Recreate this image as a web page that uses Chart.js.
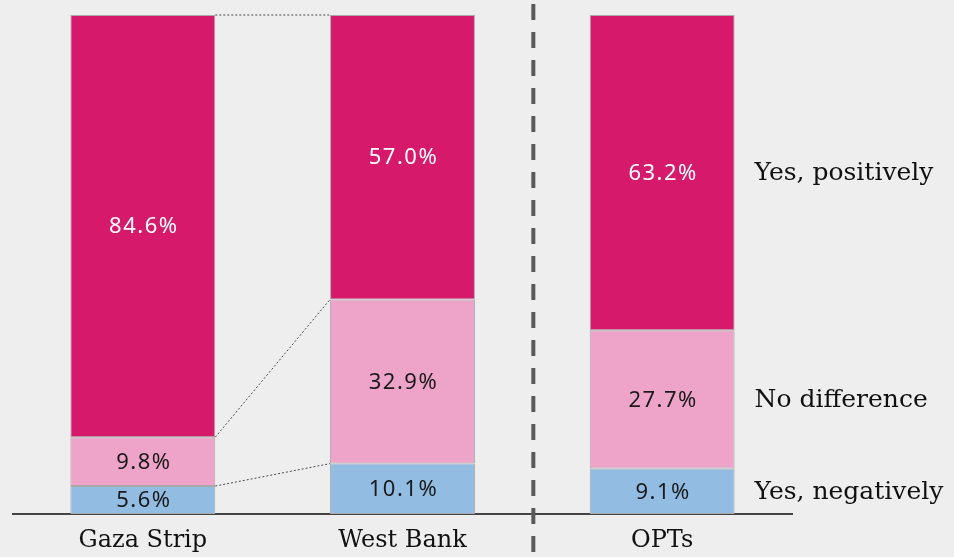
<!DOCTYPE html>
<html>
<head>
<meta charset="utf-8">
<script src="https://cdn.jsdelivr.net/npm/chart.js@4.4.0/dist/chart.umd.min.js"></script>
<style>
  html, body { margin: 0; padding: 0; background: #eeeeee; }
  #wrap { width: 954px; height: 557px; position: relative; }
</style>
</head>
<body>
<div id="wrap"><canvas id="myChart"></canvas></div>
<script>
// chart data
const categories = ['Gaza Strip', 'West Bank', 'OPTs'];
const seriesNames = ['Yes, negatively', 'No difference', 'Yes, positively'];
const negatively = [5.6, 10.1, 9.1];
const noDifference = [9.8, 32.9, 27.7];
const positively = [84.6, 57.0, 63.2];

const colours = ['#92bce2', '#eea3c8', '#d6196b'];
const textColours = ['#1a1a1a', '#1a1a1a', '#ffffff'];

const serifFont = "'DejaVu Serif', serif";
const sansFont = "'Noto Sans', sans-serif";

// draws value labels, connector lines, separator and the right hand labels
const extrasPlugin = {
    id: 'extras',
    afterDatasetsDraw(chart) {
        const ctx = chart.ctx;
        const x = chart.scales.x;
        const y = chart.scales.y;

        // dotted connectors from Gaza Strip to West Bank
        const gaza = chart.getDatasetMeta(0).data[0];
        const half = gaza.width / 2;
        const x0 = x.getPixelForValue(0) + half;
        const x1 = x.getPixelForValue(1) - half;
        const g1 = negatively[0], g2 = g1 + noDifference[0];
        const w1 = negatively[1], w2 = w1 + noDifference[1];
        const pairs = [[100, 100], [g2, w2], [g1, w1]];
        ctx.save();
        ctx.strokeStyle = '#4a4a4a';
        ctx.lineWidth = 1;
        ctx.setLineDash([2, 2]);
        pairs.forEach(p => {
            ctx.beginPath();
            ctx.moveTo(x0, y.getPixelForValue(p[0]));
            ctx.lineTo(x1, y.getPixelForValue(p[1]));
            ctx.stroke();
        });
        ctx.restore();

        // values in the bars
        ctx.save();
        ctx.font = '22px ' + sansFont;
        ctx.letterSpacing = '1.5px';
        ctx.textAlign = 'center';
        ctx.textBaseline = 'middle';
        chart.data.datasets.forEach((ds, di) => {
            const meta = chart.getDatasetMeta(di);
            meta.data.forEach((bar, i) => {
                ctx.fillStyle = textColours[di];
                ctx.fillText(ds.data[i].toFixed(1) + '%', bar.x + 1, (bar.y + bar.base) / 2 + 1);
            });
        });
        ctx.restore();

        // series names next to the OPTs bar
        ctx.save();
        ctx.font = '25px ' + serifFont;
        ctx.fillStyle = '#111111';
        ctx.textAlign = 'left';
        ctx.textBaseline = 'middle';
        chart.data.datasets.forEach((ds, di) => {
            const bar = chart.getDatasetMeta(di).data[2];
            ctx.fillText(seriesNames[di], bar.x + bar.width / 2 + 20, (bar.y + bar.base) / 2 + 1);
        });
        ctx.restore();

        // dashed separator between West Bank and OPTs
        const sx = (x.getPixelForValue(1) + x.getPixelForValue(2)) / 2 + 1;
        ctx.save();
        ctx.strokeStyle = '#5a5a5a';
        ctx.lineWidth = 4;
        ctx.setLineDash([16, 12]);
        ctx.lineDashOffset = -4;
        ctx.beginPath();
        ctx.moveTo(sx, 0);
        ctx.lineTo(sx, chart.height);
        ctx.stroke();
        ctx.restore();
    }
};

const datasets = [negatively, noDifference, positively].map((vals, i) => ({
    label: seriesNames[i],
    data: vals,
    backgroundColor: colours[i],
    borderColor: '#a8a8a8',
    borderWidth: 1,
    borderSkipped: false,
    barPercentage: 1,
    categoryPercentage: 0.558
}));

new Chart(document.getElementById('myChart'), {
    type: 'bar',
    data: { labels: categories, datasets: datasets },
    options: {
        responsive: true,
        maintainAspectRatio: false,
        animation: false,
        layout: { padding: { left: 13, right: 162, top: 15, bottom: -11 } },
        plugins: { legend: { display: false }, tooltip: { enabled: false } },
        scales: {
            x: {
                stacked: true,
                grid: { display: false, drawTicks: false },
                border: { display: true, color: '#444444', width: 2 },
                ticks: { color: '#111111', padding: 15, font: { family: serifFont, size: 24, lineHeight: 1 } }
            },
            y: {
                stacked: true,
                display: false,
                min: 0,
                max: 100
            }
        }
    },
    plugins: [extrasPlugin]
});
</script>
</body>
</html>
